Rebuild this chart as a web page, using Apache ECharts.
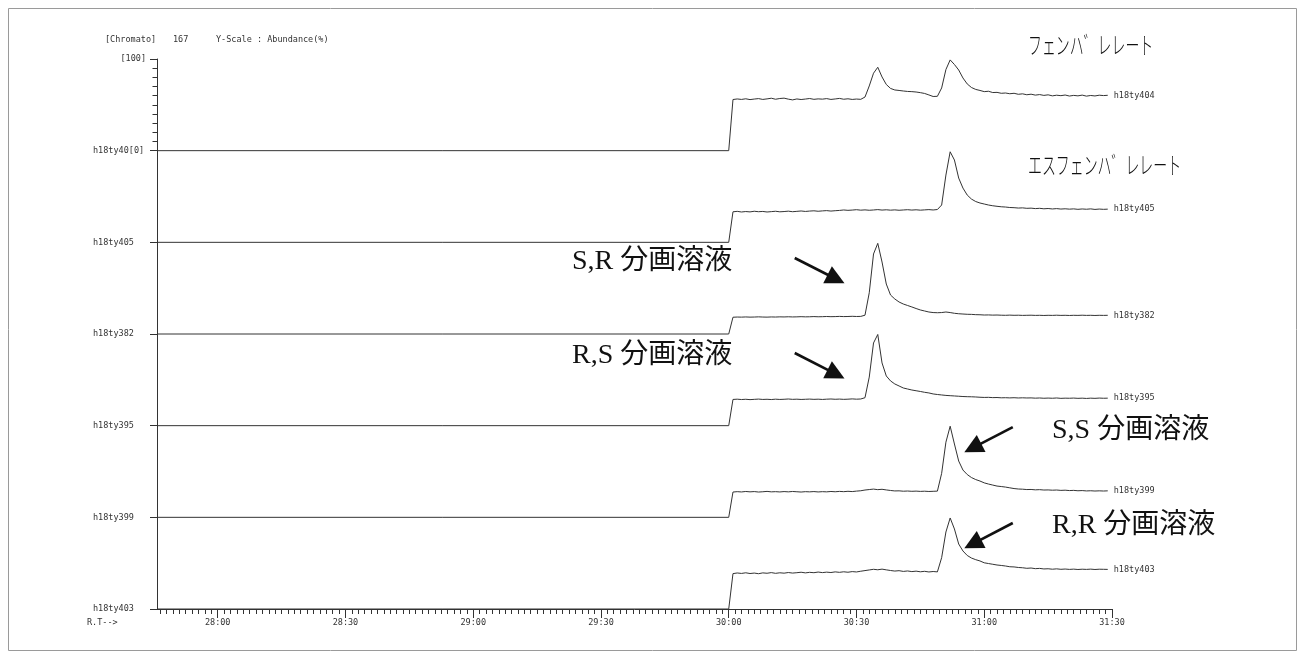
<!DOCTYPE html>
<html>
<head>
<meta charset="utf-8">
<script src="https://cdn.jsdelivr.net/npm/echarts@6/dist/echarts.min.js"></script>
<style>
html, body { margin: 0; padding: 0; background: #fff; }
#chart { width: 1305px; height: 660px; }
</style>
</head>
<body>
<div id="chart"></div>
<script>
// Retention-time window of the stacked chromatogram (seconds)
const rtMin = 1665.75;
const rtMax = 1890;

// Scan times after the 30:00 switch (seconds)
const rtTimes = [
  1800, 1801, 1802, 1803, 1804, 1805, 1806, 1807, 1808, 1809,
  1810, 1811, 1812, 1813, 1814, 1815, 1816, 1817, 1818, 1819,
  1820, 1821, 1822, 1823, 1824, 1825, 1826, 1827, 1828, 1829,
  1830, 1831, 1832, 1833, 1834, 1835, 1836, 1837, 1838, 1839,
  1840, 1841, 1842, 1843, 1844, 1845, 1846, 1847, 1848, 1849,
  1850, 1851, 1852, 1853, 1854, 1855, 1856, 1857, 1858, 1859,
  1860, 1861, 1862, 1863, 1864, 1865, 1866, 1867, 1868, 1869,
  1870, 1871, 1872, 1873, 1874, 1875, 1876, 1877, 1878, 1879,
  1880, 1881, 1882, 1883, 1884, 1885, 1886, 1887, 1888, 1889
];

// Relative abundance (%) of each run, top to bottom
const h18ty404 = [
  0, 55.8, 56.4, 55.9, 56.6, 55.7, 56.3, 56.8, 55.9, 56.5,
  57.2, 56.1, 56.9, 57.3, 56.2, 55.4, 56.4, 55.8, 56.3, 56.9,
  56.0, 56.5, 56.2, 56.8, 55.9, 56.4, 57.0, 56.1, 56.6, 55.9,
  56.3, 56.0, 58.5, 70.6, 84.5, 91.0, 80.4, 72.2, 67.9, 66.2,
  65.7, 65.1, 64.6, 64.4, 64.0, 63.3, 62.4, 60.8, 59.1, 59.3,
  68.4, 88.5, 99.0, 94.0, 88.0, 79.3, 72.8, 68.9, 66.8, 65.7,
  64.4, 64.8, 63.4, 63.6, 62.6, 62.9, 62.1, 62.6, 61.5, 62.0,
  61.0, 61.6, 60.6, 61.2, 60.3, 60.9, 59.8, 60.5, 60.0, 60.7,
  59.6, 60.3, 59.8, 60.6, 59.5, 60.2, 59.7, 60.5, 60.1, 60.4
];
const h18ty405 = [
  0, 33.3, 33.8, 33.1, 33.6, 33.2, 33.9, 33.4, 33.7, 33.1,
  33.5, 33.9, 33.3, 33.6, 34.0, 33.4, 33.8, 34.2, 33.7, 34.1,
  34.4, 33.9, 34.3, 34.6, 34.1, 34.5, 34.8, 35.3, 34.9, 35.2,
  35.6, 35.1, 35.4, 35.0, 35.3, 35.7, 35.2, 35.5, 35.1, 35.4,
  35.0, 35.3, 35.6, 35.2, 35.5, 35.1, 35.4, 35.7, 35.3, 35.8,
  40.7, 73.4, 98.8, 89.8, 70.1, 59.2, 51.6, 47.2, 44.5, 42.9,
  41.8, 40.7, 39.9, 39.3, 38.8, 38.5, 38.0, 37.8, 37.4, 37.6,
  37.1, 37.3, 36.8, 37.1, 36.6, 36.9, 36.4, 36.8, 36.3, 36.6,
  36.2, 36.5, 36.0, 36.4, 36.1, 36.5, 35.9, 36.3, 36.0, 36.2
];
const h18ty382 = [
  0, 18.3, 18.5, 18.4, 18.6, 18.4, 18.5, 18.7, 18.5, 18.4,
  18.6, 18.5, 18.7, 18.6, 18.8, 18.6, 18.7, 18.9, 18.7, 18.8,
  19.0, 18.8, 18.9, 19.1, 18.9, 19.0, 19.2, 19.0, 19.1, 19.3,
  19.1, 19.2, 20.5, 45.0, 87.3, 98.9, 78.5, 54.5, 42.5, 38.2,
  34.9, 32.7, 31.1, 29.5, 27.8, 26.2, 25.1, 24.0, 23.4, 23.2,
  23.4, 24.0, 23.4, 22.6, 22.1, 21.8, 21.5, 21.4, 21.1, 21.0,
  20.7, 20.8, 20.6, 20.7, 20.5, 20.4, 20.6, 20.4, 20.5, 20.3,
  20.4, 20.5, 20.3, 20.4, 20.2, 20.4, 20.3, 20.5, 20.3, 20.4,
  20.2, 20.4, 20.3, 20.5, 20.3, 20.4, 20.2, 20.4, 20.3, 20.4
];
const h18ty395 = [
  0, 28.6, 28.9, 28.5, 28.8, 28.4, 28.7, 29.0, 28.6, 28.8,
  28.5, 28.9, 28.6, 28.8, 29.1, 28.7, 28.9, 28.6, 28.8, 29.0,
  28.7, 28.9, 28.6, 28.9, 29.1, 28.8, 29.0, 28.7, 28.9, 29.2,
  28.9, 29.1, 30.5, 53.0, 90.2, 99.5, 68.4, 54.2, 48.8, 45.5,
  43.3, 41.1, 40.0, 38.9, 38.1, 37.3, 36.4, 35.7, 34.6, 34.0,
  33.5, 33.0, 32.7, 32.4, 32.1, 31.8, 31.6, 31.5, 31.3, 31.0,
  30.8, 30.9, 30.6, 30.7, 30.4, 30.5, 30.3, 30.5, 30.2, 30.4,
  30.2, 30.3, 30.0, 30.2, 29.9, 30.1, 29.9, 30.2, 29.8, 30.0,
  29.9, 30.1, 29.8, 30.0, 29.7, 30.0, 29.8, 30.1, 29.9, 30.0
];
const h18ty399 = [
  0, 27.6, 28.0, 27.7, 28.2, 27.8, 28.1, 27.6, 27.9, 28.3,
  27.8, 28.0, 27.7, 28.1, 27.8, 28.2, 27.9, 27.6, 28.0, 27.8,
  28.1, 27.7, 28.0, 27.8, 28.2, 27.9, 28.3, 28.0, 28.4, 28.1,
  28.6, 29.0, 29.8, 30.3, 30.8, 30.2, 30.6, 29.9, 29.3, 28.8,
  28.9, 28.5, 28.7, 28.4, 28.6, 28.3, 28.5, 28.2, 28.4, 28.6,
  48.0, 82.0, 99.4, 80.0, 61.4, 51.6, 46.7, 43.4, 41.2, 39.6,
  37.6, 36.3, 35.2, 34.1, 33.6, 33.0, 32.2, 31.4, 30.9, 30.7,
  30.3, 30.4, 30.0, 30.2, 29.8, 29.9, 29.6, 29.8, 29.4, 29.6,
  29.2, 29.4, 29.0, 29.2, 28.8, 29.0, 28.7, 28.9, 28.7, 28.9
];
const h18ty403 = [
  0, 38.6, 39.3, 38.8, 39.5, 38.7, 39.2, 38.5, 39.4, 39.0,
  39.7, 38.9, 39.5, 39.1, 39.8, 39.2, 39.6, 40.1, 39.4, 40.0,
  39.6, 40.3, 39.7, 40.2, 39.8, 40.5, 40.0, 40.6, 40.1, 40.8,
  40.4, 41.2, 41.9, 42.6, 43.3, 42.8, 43.5, 42.7, 42.0, 41.4,
  41.8, 41.0, 41.5, 40.8, 41.3, 40.6, 41.1, 40.4, 40.9, 40.5,
  56.0, 84.0, 99.3, 87.3, 70.9, 63.3, 58.4, 55.6, 53.8, 52.4,
  50.4, 49.6, 48.8, 48.0, 47.5, 46.9, 46.1, 45.9, 45.3, 45.0,
  44.4, 44.7, 44.0, 44.3, 43.7, 43.9, 43.4, 43.8, 43.3, 43.6,
  43.2, 43.5, 43.1, 43.4, 43.2, 43.5, 43.1, 43.4, 43.3, 43.2
];

const traceNames = ['h18ty404', 'h18ty405', 'h18ty382', 'h18ty395', 'h18ty399', 'h18ty403'];
const traceValues = [h18ty404, h18ty405, h18ty382, h18ty395, h18ty399, h18ty403];

// Left-axis labels at each stacked baseline (bottom to top), and the full-scale label
const baselineLabels = ['h18ty403', 'h18ty399', 'h18ty395', 'h18ty382', 'h18ty405', 'h18ty40[0]'];
const fullScaleLabel = '[100]';

// Time-axis labels (seconds) shown as mm:ss
const rtMajorTicks = [1680, 1710, 1740, 1770, 1800, 1830, 1860, 1890];

// Header and annotation texts
const headerTexts = ['[Chromato]', '167', 'Y-Scale : Abundance(%)'];
const rtAxisTitle = 'R.T-->';
const compoundNames = ['フェンハ゛レレート', 'エスフェンハ゛レレート'];
const fractionNames = ['S,R 分画溶液', 'R,S 分画溶液', 'S,S 分画溶液', 'R,R 分画溶液'];

// Each run occupies a 100-unit band on the shared value axis
const bandSize = 100;
const runCount = traceNames.length;

// Minor tick positions: every 1.5 s on the time axis, every 10 % in the top band
const rtMinorTicks = [];
for (let t = rtMajorTicks[0]; t >= rtMin; t -= 1.5) rtMinorTicks.unshift(t);
for (let t = rtMajorTicks[0] + 1.5; t <= rtMax + 1e-6; t += 1.5) rtMinorTicks.push(t);
const topBandTicks = [];
for (let v = (runCount - 1) * bandSize + 10; v < runCount * bandSize; v += 10) topBandTicks.push(v);

const monoFont = 'DejaVu Sans Mono';
const smallText = { fontFamily: monoFont, fontSize: 8.5, color: '#333' };
const lineColor = '#333';

function fmtRT(v) {
  const m = Math.floor(v / 60);
  const s = Math.round(v - m * 60);
  return m + ':' + String(s).padStart(2, '0');
}

const series = traceValues.map((vals, i) => {
  const offset = (runCount - 1 - i) * bandSize;
  const data = [[rtMin, offset]].concat(rtTimes.map((t, j) => [t, offset + vals[j]]));
  return {
    type: 'line',
    name: traceNames[i],
    xAxisIndex: 0,
    yAxisIndex: 0,
    data: data,
    showSymbol: false,
    symbol: 'none',
    silent: true,
    animation: false,
    lineStyle: { color: lineColor, width: 1 },
    endLabel: {
      show: true,
      formatter: traceNames[i],
      distance: 6,
      fontFamily: monoFont,
      fontSize: 8.5,
      color: '#333'
    }
  };
});

// Arrows pointing at the fraction peaks, in (time, stacked value) coordinates
series[0].markLine = {
  silent: true,
  animation: false,
  symbol: ['none', 'triangle'],
  symbolSize: 19,
  label: { show: false },
  lineStyle: { color: '#111', width: 2.6, type: 'solid' },
  itemStyle: { color: '#111' },
  emphasis: { disabled: true },
  data: [
    [{ coord: [1815.5, 382.9] }, { coord: [1825.2, 360.0] }],
    [{ coord: [1815.5, 279.3] }, { coord: [1825.2, 256.3] }],
    [{ coord: [1866.7, 198.5] }, { coord: [1857.3, 175.7] }],
    [{ coord: [1866.7, 93.8] }, { coord: [1857.3, 71.0] }]
  ]
};

const serifFont = '28px "Liberation Serif", "Noto Sans CJK JP", serif';
const kanaFont = '300 24px "Noto Sans CJK JP"';

const option = {
  animation: false,
  backgroundColor: '#ffffff',
  grid: { left: 157, right: 193, top: 59, bottom: 51, containLabel: false },
  xAxis: [
    {
      type: 'value', min: rtMin, max: rtMax, position: 'bottom',
      axisLine: { show: true, onZero: false, lineStyle: { color: lineColor, width: 1 } },
      axisTick: { show: true, length: 5, customValues: rtMinorTicks, lineStyle: { color: lineColor } },
      axisLabel: { show: false },
      splitLine: { show: false }
    },
    {
      type: 'value', min: rtMin, max: rtMax, position: 'bottom',
      axisLine: { show: false, onZero: false },
      axisTick: { show: true, length: 9, customValues: rtMajorTicks, lineStyle: { color: lineColor } },
      axisLabel: Object.assign({ show: true, margin: 9, customValues: rtMajorTicks, formatter: fmtRT }, smallText),
      splitLine: { show: false }
    }
  ],
  yAxis: [
    {
      type: 'value', min: 0, max: runCount * bandSize, interval: bandSize, position: 'left',
      axisLine: { show: true, onZero: false, lineStyle: { color: lineColor, width: 1 } },
      axisTick: { show: true, length: 7, lineStyle: { color: lineColor } },
      axisLabel: Object.assign({
        show: true, margin: 64, align: 'left',
        formatter: v => (v < runCount * bandSize ? baselineLabels[Math.round(v / bandSize)] : '')
      }, smallText),
      splitLine: { show: false }
    },
    {
      type: 'value', min: 0, max: runCount * bandSize, position: 'left',
      axisLine: { show: false, onZero: false },
      axisTick: { show: true, length: 4.5, customValues: topBandTicks, lineStyle: { color: lineColor } },
      axisLabel: Object.assign({
        show: true, margin: 11, align: 'right',
        customValues: [runCount * bandSize],
        formatter: () => fullScaleLabel
      }, smallText),
      splitLine: { show: false }
    }
  ],
  series: series,
  graphic: [
    {
      type: 'rect', silent: true,
      shape: { x: 8.5, y: 8.5, width: 1288, height: 642 },
      style: { fill: 'none', stroke: '#9a9a9a', lineWidth: 1 }
    },
    { type: 'text', x: 105, y: 40, silent: true,
      style: { text: headerTexts[0], font: '8.5px ' + monoFont, fill: '#333', textVerticalAlign: 'middle' } },
    { type: 'text', x: 173, y: 40, silent: true,
      style: { text: headerTexts[1], font: '8.5px ' + monoFont, fill: '#333', textVerticalAlign: 'middle' } },
    { type: 'text', x: 216, y: 40, silent: true,
      style: { text: headerTexts[2], font: '8.5px ' + monoFont, fill: '#333', textVerticalAlign: 'middle' } },
    { type: 'text', x: 87, y: 623, silent: true,
      style: { text: rtAxisTitle, font: '8.5px ' + monoFont, fill: '#333', textVerticalAlign: 'middle' } },
    { type: 'text', x: 1028, y: 45, scaleX: 0.58, silent: true,
      style: { text: compoundNames[0], font: kanaFont, fill: '#111', textVerticalAlign: 'middle' } },
    { type: 'text', x: 1028, y: 165, scaleX: 0.58, silent: true,
      style: { text: compoundNames[1], font: kanaFont, fill: '#111', textVerticalAlign: 'middle' } },
    { type: 'text', x: 572, y: 262, silent: true,
      style: { text: fractionNames[0], font: serifFont, fill: '#111', textVerticalAlign: 'middle' } },
    { type: 'text', x: 572, y: 356, silent: true,
      style: { text: fractionNames[1], font: serifFont, fill: '#111', textVerticalAlign: 'middle' } },
    { type: 'text', x: 1052, y: 431, silent: true,
      style: { text: fractionNames[2], font: serifFont, fill: '#111', textVerticalAlign: 'middle' } },
    { type: 'text', x: 1052, y: 526, silent: true,
      style: { text: fractionNames[3], font: serifFont, fill: '#111', textVerticalAlign: 'middle' } }
  ]
};

const chart = echarts.init(document.getElementById('chart'), null, { renderer: 'canvas' });
chart.setOption(option);
</script>
</body>
</html>
